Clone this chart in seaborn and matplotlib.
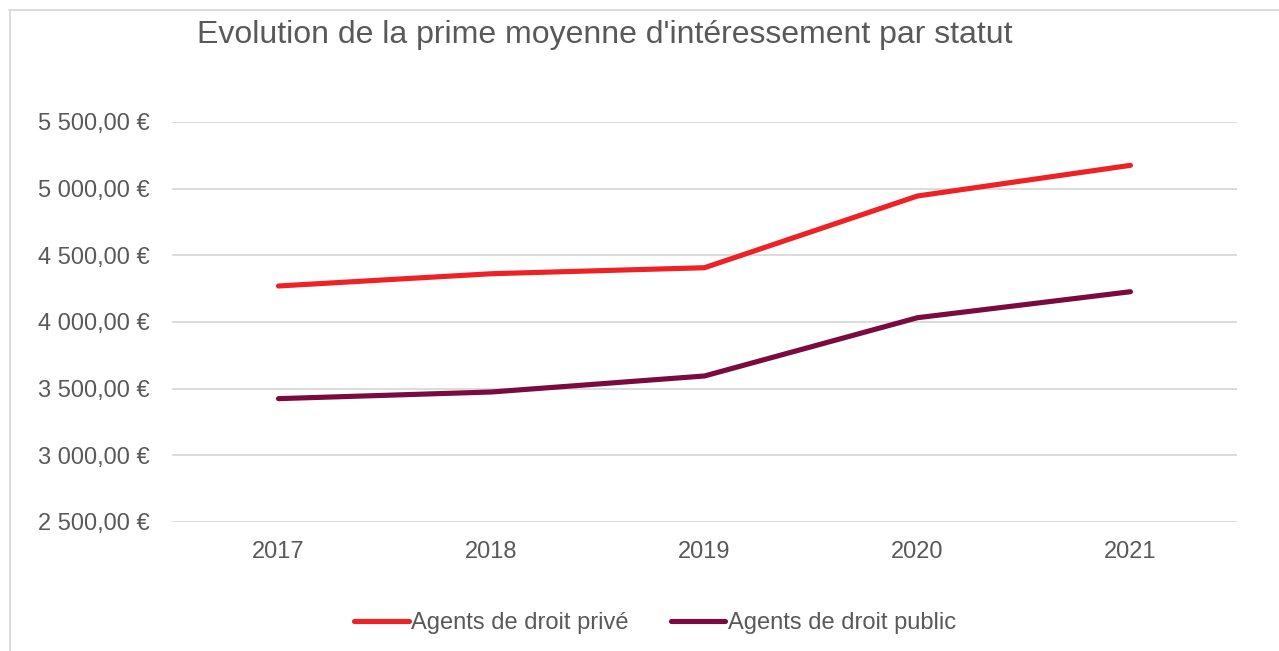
import numpy as np
import pandas as pd
import matplotlib
matplotlib.use('Agg')
import matplotlib.pyplot as plt
from matplotlib.lines import Line2D
from matplotlib.ticker import FuncFormatter
import seaborn as sns

# values
years = [2017, 2018, 2019, 2020, 2021]
prive = [4270, 4362, 4407, 4945, 5175]
public = [3425, 3475, 3595, 4032, 4227]
series_names = ['Agents de droit privé', 'Agents de droit public']
colors = ['#EE2224', '#7B0A3F']
y_ticks = [2500, 3000, 3500, 4000, 4500, 5000, 5500]

df = pd.DataFrame({
    'annee': years * 2,
    'prime': prive + public,
    'statut': [series_names[0]] * len(years) + [series_names[1]] * len(years),
})

sns.set_style('white')
plt.rcParams['font.family'] = ['Liberation Sans', 'DejaVu Sans']
grey = '#595959'
fs = 17

fig = plt.figure(figsize=(12.79, 6.51), dpi=100)
ax = fig.add_axes([0.1345, 0.1982, 0.8326, 0.6144])

sns.lineplot(data=df, x='annee', y='prime', hue='statut',
             palette=dict(zip(series_names, colors)), linewidth=3.7,
             solid_capstyle='round', ax=ax, legend=False)

ax.set_ylim(2500, 5500)
ax.set_xlim(2016.5, 2021.5)
ax.set_yticks(y_ticks)
ax.set_xticks(years)
ax.set_xticklabels([str(y) for y in years])


def euro(v, pos):
    s = f'{int(v):,}'.replace(',', ' ')
    return f'{s},00 €'


ax.yaxis.set_major_formatter(FuncFormatter(euro))
ax.grid(axis='y', color='#D9D9D9', linewidth=1.3)
ax.set_axisbelow(True)
for sp in ax.spines.values():
    sp.set_visible(False)
ax.tick_params(axis='y', length=0, pad=16, labelsize=fs, labelcolor=grey)
ax.tick_params(axis='x', length=0, pad=14, labelsize=fs, labelcolor=grey)
ax.set_xlabel('')
ax.set_ylabel('')

fig.text(605 / 1279, 1 - 35 / 651, "Evolution de la prime moyenne d'intéressement par statut",
         ha='center', va='center', fontsize=23, color=grey)

handles = [Line2D([], [], color=c, linewidth=3.7, solid_capstyle='round') for c in colors]
fig.legend(handles, series_names, loc='center', bbox_to_anchor=(655 / 1279, 1 - 623 / 651),
           ncol=2, frameon=False, fontsize=fs, labelcolor=grey,
           handlelength=2.3, handletextpad=0.1, columnspacing=1.8)

# light frame around the chart area (top and left edges visible)
fig.add_artist(Line2D([9.5 / 1279, 9.5 / 1279], [0, 1 - 10 / 651],
                      transform=fig.transFigure, color='#D9D9D9', linewidth=1.3))
fig.add_artist(Line2D([9 / 1279, 1], [1 - 10 / 651, 1 - 10 / 651],
                      transform=fig.transFigure, color='#D9D9D9', linewidth=1.3))

fig.savefig('out.png', dpi=100)
